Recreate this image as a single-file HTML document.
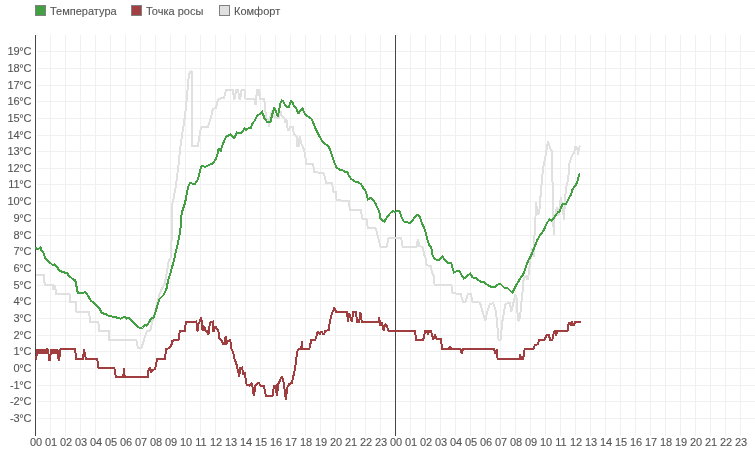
<!DOCTYPE html>
<html><head><meta charset="utf-8"><title>Температура</title>
<style>
html,body{margin:0;padding:0;background:#fff;}
body{width:755px;height:451px;overflow:hidden;}
svg{display:block;will-change:transform;}
text{font-family:"Liberation Sans", "DejaVu Sans", sans-serif;font-size:11px;fill:#555;stroke:#555;stroke-width:0.1px;}
</style></head><body>
<svg width="755" height="451" viewBox="0 0 755 451">
<rect width="755" height="451" fill="#fff"/>
<g><rect x="50" y="35" width="1" height="401" fill="#f0f0f0"/><rect x="65" y="35" width="1" height="401" fill="#f0f0f0"/><rect x="80" y="35" width="1" height="401" fill="#f0f0f0"/><rect x="95" y="35" width="1" height="401" fill="#f0f0f0"/><rect x="110" y="35" width="1" height="401" fill="#f0f0f0"/><rect x="125" y="35" width="1" height="401" fill="#f0f0f0"/><rect x="140" y="35" width="1" height="401" fill="#f0f0f0"/><rect x="155" y="35" width="1" height="401" fill="#f0f0f0"/><rect x="170" y="35" width="1" height="401" fill="#f0f0f0"/><rect x="185" y="35" width="1" height="401" fill="#f0f0f0"/><rect x="200" y="35" width="1" height="401" fill="#f0f0f0"/><rect x="215" y="35" width="1" height="401" fill="#f0f0f0"/><rect x="230" y="35" width="1" height="401" fill="#f0f0f0"/><rect x="245" y="35" width="1" height="401" fill="#f0f0f0"/><rect x="260" y="35" width="1" height="401" fill="#f0f0f0"/><rect x="275" y="35" width="1" height="401" fill="#f0f0f0"/><rect x="290" y="35" width="1" height="401" fill="#f0f0f0"/><rect x="305" y="35" width="1" height="401" fill="#f0f0f0"/><rect x="320" y="35" width="1" height="401" fill="#f0f0f0"/><rect x="335" y="35" width="1" height="401" fill="#f0f0f0"/><rect x="350" y="35" width="1" height="401" fill="#f0f0f0"/><rect x="365" y="35" width="1" height="401" fill="#f0f0f0"/><rect x="380" y="35" width="1" height="401" fill="#f0f0f0"/><rect x="410" y="35" width="1" height="401" fill="#f0f0f0"/><rect x="425" y="35" width="1" height="401" fill="#f0f0f0"/><rect x="440" y="35" width="1" height="401" fill="#f0f0f0"/><rect x="455" y="35" width="1" height="401" fill="#f0f0f0"/><rect x="470" y="35" width="1" height="401" fill="#f0f0f0"/><rect x="485" y="35" width="1" height="401" fill="#f0f0f0"/><rect x="500" y="35" width="1" height="401" fill="#f0f0f0"/><rect x="515" y="35" width="1" height="401" fill="#f0f0f0"/><rect x="530" y="35" width="1" height="401" fill="#f0f0f0"/><rect x="545" y="35" width="1" height="401" fill="#f0f0f0"/><rect x="560" y="35" width="1" height="401" fill="#f0f0f0"/><rect x="575" y="35" width="1" height="401" fill="#f0f0f0"/><rect x="590" y="35" width="1" height="401" fill="#f0f0f0"/><rect x="605" y="35" width="1" height="401" fill="#f0f0f0"/><rect x="620" y="35" width="1" height="401" fill="#f0f0f0"/><rect x="635" y="35" width="1" height="401" fill="#f0f0f0"/><rect x="650" y="35" width="1" height="401" fill="#f0f0f0"/><rect x="665" y="35" width="1" height="401" fill="#f0f0f0"/><rect x="680" y="35" width="1" height="401" fill="#f0f0f0"/><rect x="695" y="35" width="1" height="401" fill="#f0f0f0"/><rect x="710" y="35" width="1" height="401" fill="#f0f0f0"/><rect x="725" y="35" width="1" height="401" fill="#f0f0f0"/><rect x="740" y="35" width="1" height="401" fill="#f0f0f0"/><rect x="37" y="418" width="718" height="1" fill="#f0f0f0"/><rect x="37" y="401" width="718" height="1" fill="#f0f0f0"/><rect x="37" y="385" width="718" height="1" fill="#f0f0f0"/><rect x="37" y="368" width="718" height="1" fill="#f0f0f0"/><rect x="37" y="351" width="718" height="1" fill="#f0f0f0"/><rect x="37" y="335" width="718" height="1" fill="#f0f0f0"/><rect x="37" y="318" width="718" height="1" fill="#f0f0f0"/><rect x="37" y="301" width="718" height="1" fill="#f0f0f0"/><rect x="37" y="285" width="718" height="1" fill="#f0f0f0"/><rect x="37" y="268" width="718" height="1" fill="#f0f0f0"/><rect x="37" y="251" width="718" height="1" fill="#f0f0f0"/><rect x="37" y="235" width="718" height="1" fill="#f0f0f0"/><rect x="37" y="218" width="718" height="1" fill="#f0f0f0"/><rect x="37" y="201" width="718" height="1" fill="#f0f0f0"/><rect x="37" y="184" width="718" height="1" fill="#f0f0f0"/><rect x="37" y="168" width="718" height="1" fill="#f0f0f0"/><rect x="37" y="151" width="718" height="1" fill="#f0f0f0"/><rect x="37" y="135" width="718" height="1" fill="#f0f0f0"/><rect x="37" y="118" width="718" height="1" fill="#f0f0f0"/><rect x="37" y="101" width="718" height="1" fill="#f0f0f0"/><rect x="37" y="85" width="718" height="1" fill="#f0f0f0"/><rect x="37" y="68" width="718" height="1" fill="#f0f0f0"/><rect x="37" y="51" width="718" height="1" fill="#f0f0f0"/></g>
<rect x="396" y="35" width="1" height="401" fill="#fff"/>
<rect x="35" y="35" width="1" height="401" fill="#454545"/>
<rect x="395" y="35" width="1" height="401" fill="#454545"/>
<g><text x="31.3" y="422" text-anchor="end" letter-spacing="-0.2">-3°C</text><text x="31.3" y="405" text-anchor="end" letter-spacing="-0.2">-2°C</text><text x="31.3" y="389" text-anchor="end" letter-spacing="-0.2">-1°C</text><text x="31.3" y="372" text-anchor="end" letter-spacing="-0.2">0°C</text><text x="31.3" y="355" text-anchor="end" letter-spacing="-0.2">1°C</text><text x="31.3" y="339" text-anchor="end" letter-spacing="-0.2">2°C</text><text x="31.3" y="322" text-anchor="end" letter-spacing="-0.2">3°C</text><text x="31.3" y="305" text-anchor="end" letter-spacing="-0.2">4°C</text><text x="31.3" y="289" text-anchor="end" letter-spacing="-0.2">5°C</text><text x="31.3" y="272" text-anchor="end" letter-spacing="-0.2">6°C</text><text x="31.3" y="255" text-anchor="end" letter-spacing="-0.2">7°C</text><text x="31.3" y="239" text-anchor="end" letter-spacing="-0.2">8°C</text><text x="31.3" y="222" text-anchor="end" letter-spacing="-0.2">9°C</text><text x="31.3" y="205" text-anchor="end" letter-spacing="-0.2">10°C</text><text x="31.3" y="188" text-anchor="end" letter-spacing="-0.2">11°C</text><text x="31.3" y="172" text-anchor="end" letter-spacing="-0.2">12°C</text><text x="31.3" y="155" text-anchor="end" letter-spacing="-0.2">13°C</text><text x="31.3" y="139" text-anchor="end" letter-spacing="-0.2">14°C</text><text x="31.3" y="122" text-anchor="end" letter-spacing="-0.2">15°C</text><text x="31.3" y="105" text-anchor="end" letter-spacing="-0.2">16°C</text><text x="31.3" y="89" text-anchor="end" letter-spacing="-0.2">17°C</text><text x="31.3" y="72" text-anchor="end" letter-spacing="-0.2">18°C</text><text x="31.3" y="55" text-anchor="end" letter-spacing="-0.2">19°C</text></g>
<g><text x="36" y="446" text-anchor="middle">00</text><text x="51" y="446" text-anchor="middle">01</text><text x="66" y="446" text-anchor="middle">02</text><text x="81" y="446" text-anchor="middle">03</text><text x="96" y="446" text-anchor="middle">04</text><text x="111" y="446" text-anchor="middle">05</text><text x="126" y="446" text-anchor="middle">06</text><text x="141" y="446" text-anchor="middle">07</text><text x="156" y="446" text-anchor="middle">08</text><text x="171" y="446" text-anchor="middle">09</text><text x="186" y="446" text-anchor="middle">10</text><text x="201" y="446" text-anchor="middle">11</text><text x="216" y="446" text-anchor="middle">12</text><text x="231" y="446" text-anchor="middle">13</text><text x="246" y="446" text-anchor="middle">14</text><text x="261" y="446" text-anchor="middle">15</text><text x="276" y="446" text-anchor="middle">16</text><text x="291" y="446" text-anchor="middle">17</text><text x="306" y="446" text-anchor="middle">18</text><text x="321" y="446" text-anchor="middle">19</text><text x="336" y="446" text-anchor="middle">20</text><text x="351" y="446" text-anchor="middle">21</text><text x="366" y="446" text-anchor="middle">22</text><text x="381" y="446" text-anchor="middle">23</text><text x="396" y="446" text-anchor="middle">00</text><text x="411" y="446" text-anchor="middle">01</text><text x="426" y="446" text-anchor="middle">02</text><text x="441" y="446" text-anchor="middle">03</text><text x="456" y="446" text-anchor="middle">04</text><text x="471" y="446" text-anchor="middle">05</text><text x="486" y="446" text-anchor="middle">06</text><text x="501" y="446" text-anchor="middle">07</text><text x="516" y="446" text-anchor="middle">08</text><text x="531" y="446" text-anchor="middle">09</text><text x="546" y="446" text-anchor="middle">10</text><text x="561" y="446" text-anchor="middle">11</text><text x="576" y="446" text-anchor="middle">12</text><text x="591" y="446" text-anchor="middle">13</text><text x="606" y="446" text-anchor="middle">14</text><text x="621" y="446" text-anchor="middle">15</text><text x="636" y="446" text-anchor="middle">16</text><text x="651" y="446" text-anchor="middle">17</text><text x="666" y="446" text-anchor="middle">18</text><text x="681" y="446" text-anchor="middle">19</text><text x="696" y="446" text-anchor="middle">20</text><text x="711" y="446" text-anchor="middle">21</text><text x="726" y="446" text-anchor="middle">22</text><text x="741" y="446" text-anchor="middle">23</text></g>
<polyline points="35.5,274.8 44,274.8 44.6,283.9 45.3,285 52.6,285 53.2,290 53.8,285 54.5,290 55.2,285.5 55.6,290 56.2,293.9 68.6,293.9 69.5,294 70,302.2 75.9,302.2 76.5,312 89.3,312 89.9,322 98.4,322 99,330.9 108.8,330.9 109.4,340 136.2,340 138,348 141.5,348 144.2,339.1 146.8,331.2 150.4,330.3 152.2,321.4 153.9,316.1 156.6,305.5 159.3,294.8 161.9,288.6 164.6,284.2 166.3,275.3 167.2,270 168.6,261.1 171,257.3 171.7,235.5 171.6,206.6 173.3,199.9 175.8,186.6 177.5,173.3 179.1,160 180,150 182,135.8 185,115.9 187,95.9 188.9,75 189.9,72.4 191.5,71.6 192.3,72.4 192.3,145.8 197.9,145.8 200.9,127.9 202.9,126.9 207.9,126.9 210.9,117.9 212.9,108.9 215.9,107.9 217.9,99.9 220.9,98.3 223.9,98.3 225.9,90.3 232.8,89.8 234,99 234.5,99 236.2,89.8 238,89.8 239.6,99 240.2,99 241.6,89.8 244.5,89.8 245.5,98.5 254.4,98.6 255,104.2 256.2,104.2 256.7,89.5 257.5,89.5 258.2,96 258.7,89.5 259.3,89.5 260,99 264.3,99 264.6,103.4 265.3,106 265.6,114 266.7,118.6 268.8,118.6 269,127.2 269.5,118.6 270.5,116 272.1,110.1 273.5,114 275.2,117.9 279.1,117.9 280.6,111.7 281.8,116.3 284.5,118.6 285.3,122.5 286.4,119.4 287.2,127.2 288.8,131.1 290.3,127.2 293.1,127.2 293.8,134.5 296.5,136 297.2,146.3 299.2,146.3 299.6,136.5 301,142.7 302.7,146.3 304,149.8 305,154.3 305.8,160.5 306.3,163.6 313.2,163.6 313.9,172.2 322.6,172.9 323.9,173.5 325.3,179 326,183 332,183 333.3,191.6 336,192.3 336.6,200.3 348.6,200.9 349.9,209.8 360.6,209.8 362.6,218.9 366.5,219.5 367.9,228.2 376,228.5 378,236.9 380.6,246.9 386.6,246.9 388.6,237.6 401.2,237.6 402.6,246.9 416.5,246.9 417.9,238.9 419.2,246.2 422.5,246.9 424.5,255.5 425.3,256.6 426.6,265.3 430.6,266 432,272.6 434,276.6 434.6,284.8 451.3,284.8 452.6,293.2 460.6,293.9 463.3,302.3 465.3,302.3 468,293.7 470.7,293.7 472.6,302 480,302.6 482,309.6 485.3,321 487.3,311.6 490,303.6 493.3,303.4 496,311.6 498.6,339.6 500.6,339.6 502.6,319.6 505.3,305 507.9,302.6 509.9,302.6 511.3,311.6 513.3,303.6 515.3,294.3 516.6,298.3 517.9,319.6 519.2,321 520.6,311.6 521.9,297 523.2,286.3 523.6,279 526,275.9 527.5,279.8 529.1,272.8 529.8,263.5 532.2,248 533.7,257.3 534.5,235.5 535.3,223 536,201.9 537.4,213.9 538.4,214.9 539.9,206.9 540.9,190 541.9,182 542.9,168.9 544.4,161.9 546.1,152.9 546.9,147 548.1,141.5 549.1,144.5 549.9,147 550.9,150.5 552.1,151 552.4,172.9 552.9,213.9 553.9,234.8 554.4,219.9 556.9,206.9 558.4,215.9 560.9,197.4 561.9,202.9 563.4,213.9 563.9,219.9 564.9,202.9 565.9,188 567.4,183 568.4,178 568.9,164.9 570.8,158.9 571.8,155.9 574.3,152.9 575.3,146 576.3,149 577.3,147 577.8,154.9 578.8,149 579.8,146 580.3,145.5" fill="none" stroke="#e0e0e0" stroke-width="2" stroke-linejoin="miter" stroke-miterlimit="2" shape-rendering="crispEdges"/>
<polyline points="36,359.5 36.5,356 37.5,349 38,354 38.8,349 39.6,354 40.4,349 41.2,354 42,349 42.8,354 43.6,349 44.4,354 45.2,349 46,354 46.8,349 47.5,349 48.5,354 49,359.5 50,359.5 50.6,354 51,349 51.8,354 52.6,349 53.4,354 54.2,349 55,354 55.8,349 56.6,354 57.4,349 58,354 58.6,359.5 59.3,359.5 59.8,354 60.6,349 75.2,349 75.9,358.6 83.2,358.6 83.9,349.3 85.9,358.6 97.2,358.6 98.5,367.9 114.4,367.9 115.8,377 123.3,377 124,368.5 124.7,377 147.9,377 148.5,370.5 149.9,367.2 151.2,371.9 155.2,368.5 157.2,359.2 165.2,359.2 165.8,349.3 169.1,348 171.1,346 172.5,340.6 178.5,340 179.8,331.3 185.1,330.6 185.8,322 196.4,321.5 196.9,328.6 197.7,331.3 198.6,323.3 200,321.5 200.9,317.5 201.7,320.6 202.6,330.4 203.5,326.4 204.4,326.9 205.3,330.4 206.6,330.9 208.4,334.8 209.3,330.4 209.7,322.9 212.8,321.5 213.3,330.9 214.2,330.9 215,326.4 216.4,327.7 218.2,330.9 219,333.1 219.5,338.4 221.7,340.2 223.5,345 224.8,341.9 225.7,335.7 226.1,344.6 227.5,340.6 229.2,340.6 230.1,339.3 231,345.5 231.5,349 233.2,352.6 234.5,359.2 236,362.3 237.3,367.6 239.3,376.9 240,368.3 242,367.6 243.3,373.6 244.6,372.9 246.6,384.9 249.3,385.6 251.9,382.9 253.9,396.2 255.3,385.6 258.6,382.9 260.6,385.6 263.9,385.6 265.9,395.5 272.6,395.5 273.9,386.2 275.9,385.6 276.8,396.2 278.5,383.6 281.9,376.2 283.9,383.6 285.9,400.2 287.2,387.6 289.2,384.2 291.8,382.9 293.2,376.9 295.2,367.6 297.2,351.6 298.6,348.9 301.3,348.9 302,340.6 302.6,348.9 309.3,348.9 311.3,339.9 315.3,339.6 317.9,331.3 319.9,334.8 321.3,331.3 323.9,334.8 325.2,331.3 328.6,329.9 329.9,321.3 331.9,313.3 334.5,307.7 335.9,311.7 347.2,311.7 347.8,321.9 349.2,313.3 351.8,321.9 353.2,312 355.8,312 357.2,321.9 359.1,321.9 360.5,312.6 361.8,321.9 378.4,321.9 379.1,317.3 380.4,325.9 381.8,321.9 383.8,331.3 385.1,323.9 387.1,326.6 388.6,331 415.2,331 415.9,339.9 423.2,339.9 425.2,331.3 427.2,331 427.9,334.6 429.2,331 431.2,331.3 433.2,339.9 435.2,334.6 436.5,339.3 441.2,339.3 441.8,348.8 449.1,348.8 450.2,345.9 451.1,348.8 460.5,348.8 461.8,353.9 463.1,348.8 493.9,348.8 495.4,353.9 496.8,349.5 497.6,358.6 519.5,358.6 520.2,354.6 521,358.6 523.2,358.6 524.6,349.5 526.1,348.8 533.4,348.8 534.9,345.1 537.8,344.4 539.2,340 544.4,340 546.6,334.9 548.8,334.9 550.2,340 552.4,340 553.9,331.9 555.3,331.2 556.1,335.6 557.5,330.5 567.5,330.5 568.5,323.9 570,322.4 570.7,326.1 572.2,321.7 573.6,326.1 575.1,321.7 580.9,321.7" fill="none" stroke="#9f3d3f" stroke-width="2" stroke-linejoin="miter" stroke-miterlimit="2" shape-rendering="crispEdges"/>
<polyline points="35.5,247.3 37.1,248.7 39.8,248.4 40.7,247.5 41.5,250.4 42.9,252.2 44.2,254 44.6,256.2 45.5,258.9 47.3,260.2 53.1,265.5 54.4,264.6 56.2,266.4 57.5,267.3 58.8,269.9 61.5,271.7 63.7,272.2 65.5,273 67.3,272.6 68.6,275.7 70.4,277 73,279.3 75,280 76,283.2 76.8,288.5 77.9,293 83.9,292.5 85.2,291.8 86.2,293 89.3,297.9 91.1,301 93.5,302.2 99.6,308.3 101.5,312.6 103.9,313.8 105.8,313.8 108.8,316.2 114.9,316.8 117.3,318 120.6,318.6 124.5,316.9 126.5,318.6 129.2,317.7 131.2,320.6 137.8,327 140.5,328 142.5,327.5 145.2,324.8 146.5,326 149.1,321.9 151.8,317.9 153.8,317.5 156.6,308.1 159.3,299.3 163.7,294.8 166.3,289.5 168.1,280.6 170.8,271.8 171.7,268.1 174.1,260.4 175.6,252.6 177.2,246.4 179.5,235.5 180.3,229.3 181,224.7 181.6,213.2 183.3,208.2 185,203.2 186.6,194.9 188.3,186.6 190,183 191.6,183.3 193.3,184.1 194.9,184.1 197.4,180 199.1,175 200.8,167.5 202.4,165.8 204.9,167 208.3,165.3 210.7,164.1 213.2,163.3 215.7,159.2 217.4,155 218.4,149.3 219.4,149 220.8,151.3 221.9,146.5 222.5,145.3 224.9,138.8 226.5,136.5 230.3,134.5 234.3,137.9 237,132.6 240.3,133.2 242,132.6 244.3,128.6 245.6,130 248.9,127.9 250.9,127.9 252.9,122.6 254.9,120.6 256.9,115.9 258.9,114.6 262.2,111.9 264.6,118.6 267.3,121.9 270.5,121.9 272.1,114.8 274.4,107.8 276,111.7 277.9,116.3 279.5,107.8 280.6,102.3 281.8,100.4 283,101.2 285.3,105.4 286.9,106.6 288.8,106.6 291.1,100.8 292.7,102.3 293.8,106.2 296.2,108.5 298.5,114 300,110.9 302.5,108.6 304.5,113.2 307.2,115.9 311.2,118.6 313.2,122.6 315.8,129.2 318.5,134.5 321.1,139.2 321.9,141 326.5,145 328.5,146.3 330.5,150.9 332.5,156.9 334.5,162.9 336.5,167.3 339.2,169.5 341.8,169.9 344.5,171.5 347.2,171.5 349.1,176.2 351.8,179.5 355.1,181.5 357.8,182.2 361.1,184.2 363.9,189 365.9,191.6 367.2,196.9 367.9,199.2 370.5,197.9 373.2,200.3 375.2,202.9 377.2,207.6 379.2,211.6 380.5,218.9 381.8,220.2 384.5,221.5 387.2,216.9 389.8,213.6 393.1,210.9 395.1,212 398.5,210.6 399.8,212.2 401.8,217.6 403.8,221.5 406.4,222.3 410.4,222.9 413.1,219.5 416.4,215.6 417.9,215 419.9,217 421.9,223.6 423.9,226.9 425.9,233.6 427.8,240.9 429.2,245.6 431.2,247.6 432.6,255.3 434.6,258.6 438,260.6 440,259.3 442.6,256.6 444.6,260 447.3,262.6 451.3,263 452.6,268.6 453.9,272.3 457.9,270.6 459.9,271.9 461.9,275.9 463.9,278.6 467.2,275.9 470.3,273.7 472.5,277.3 475.9,278.2 480.5,281.6 483.8,282.2 488.5,285.6 491.8,287 495.1,287 499.1,283.5 501.1,284.6 504.4,287.9 507.8,288.3 512.4,292.8 515.7,285.9 517.7,282.6 520.5,278.2 523.6,273.6 526,266.6 528.3,260.4 530.6,256.5 533,251 535.3,244.8 537.6,239.4 539.9,235.5 542.3,232.4 544.6,228.5 546.9,222.8 549.9,219.4 551.4,220.4 553.9,217.9 555.9,214.9 557.9,212.4 559.4,211.9 560.9,207.9 562.4,204.1 565.9,204.1 567.4,201.4 568.9,197.9 571.3,194 571.8,191 573.8,187.5 575.8,185 577.3,181.5 578.3,178.5 578.8,175.9 579.8,173.4" fill="none" stroke="#42a042" stroke-width="2" stroke-linejoin="miter" stroke-miterlimit="2" shape-rendering="crispEdges"/>
<rect x="35.5" y="5.5" width="10" height="10" fill="#429f42" stroke="#808080" stroke-width="1"/><text x="50" y="14.5">Температура</text>
<rect x="131.5" y="5.5" width="10" height="10" fill="#a04042" stroke="#808080" stroke-width="1"/><text x="146" y="14.5">Точка росы</text>
<rect x="219.5" y="5.5" width="10" height="10" fill="#e0e0e0" stroke="#808080" stroke-width="1"/><text x="234" y="14.5">Комфорт</text>
</svg>
</body></html>
